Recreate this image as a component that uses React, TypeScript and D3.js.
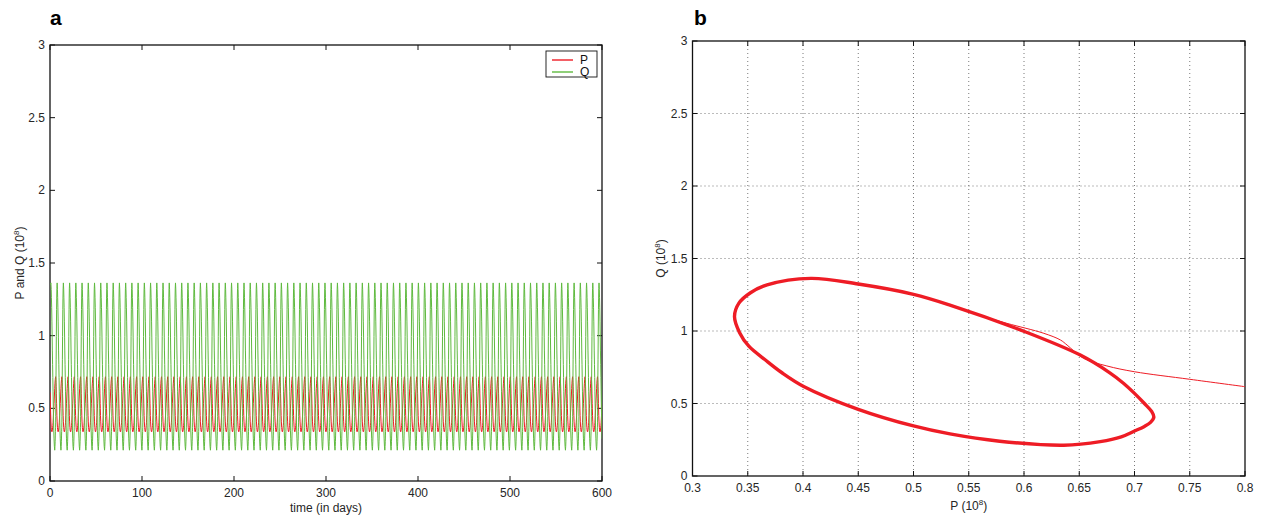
import React from 'react';
import * as d3 from 'd3';

// ---- data -------------------------------------------------------------
// One orbit of the P–Q limit cycle (units of 10^8), counter-clockwise,
// starting at its rightmost point; phase is the fraction of one period.
const cyclePhase = [0, 0.008, 0.018, 0.03, 0.042, 0.055, 0.08, 0.11, 0.15, 0.17, 0.2, 0.24, 0.29, 0.32, 0.36, 0.4, 0.44, 0.47, 0.51, 0.545, 0.58, 0.64, 0.7, 0.74, 0.79, 0.85, 0.89, 0.92, 0.945, 0.965, 0.985];
const cycleP = [0.7175, 0.7155, 0.709, 0.7, 0.69, 0.678, 0.651, 0.601, 0.533, 0.5, 0.45, 0.407, 0.3675, 0.3525, 0.342, 0.338, 0.3425, 0.351, 0.366, 0.381, 0.4006, 0.45, 0.5, 0.533, 0.578, 0.636, 0.669, 0.688, 0.7, 0.709, 0.7145];
const cycleQ = [0.405, 0.445, 0.5, 0.57, 0.64, 0.71, 0.834, 0.995, 1.179, 1.253, 1.324, 1.363, 1.318, 1.264, 1.192, 1.1, 0.99, 0.895, 0.8, 0.712, 0.618, 0.46, 0.345, 0.29, 0.24, 0.212, 0.237, 0.27, 0.31, 0.342, 0.37];

// oscillation period (days) and simulated span
const period = 6.77;
const tEnd = 600;
// initial state of the time series and where it joins the cycle
const initP = 0.61;
const initQ = 1.35;
const joinTime = 1;
const joinIndex = 11;

// transient trajectory approaching the cycle in the phase plane
const transientP = [0.8, 0.75, 0.7, 0.675, 0.654, 0.639, 0.633, 0.618, 0.5845, 0.56, 0.533];
const transientQ = [0.616, 0.667, 0.719, 0.759, 0.811, 0.903, 0.938, 0.984, 1.053, 1.108, 1.179];

// axis ticks
const timeTicks = [0, 100, 200, 300, 400, 500, 600];
const popTicks = [0, 0.5, 1, 1.5, 2, 2.5, 3];
const pTicks = [0.3, 0.35, 0.4, 0.45, 0.5, 0.55, 0.6, 0.65, 0.7, 0.75, 0.8];

const RED = '#ee1c25';
const GREEN = '#5fba3f';
const FONT = '"Liberation Sans", Arial, Helvetica, sans-serif';

// ---- build the time series from repeated orbits -------------------------
type Pt = { t: number; p: number; q: number };
const series: Pt[] = [{ t: 0, p: initP, q: initQ }];
{
  const shift = joinTime - cyclePhase[joinIndex] * period;
  let done = false;
  for (let k = 0; !done; k++) {
    for (let i = 0; i < cyclePhase.length; i++) {
      if (k === 0 && i < joinIndex) continue;
      const t = shift + (k + cyclePhase[i]) * period;
      series.push({ t, p: cycleP[i], q: cycleQ[i] });
      if (t > tEnd) { done = true; break; }
    }
  }
}

const loopPts: [number, number][] = cycleP.map((p, i) => [p, cycleQ[i]]);
const transPts: [number, number][] = transientP.map((p, i) => [p, transientQ[i]]);

// ---- layout -----------------------------------------------------------
const A = { left: 50, right: 602, top: 45, bottom: 481 };
const B = { left: 692.5, right: 1245, top: 41, bottom: 476 };
const TICK = 5;

const fmt = (v: number) => String(+v.toFixed(2));

function Frame({ box, xTicks, yTicks, x, y, grid }: any) {
  const { left, right, top, bottom } = box;
  return (
    <g>
      {grid && (
        <g stroke="#6a6a6a" strokeWidth={0.9} strokeDasharray="1 3">
          {xTicks.slice(1, -1).map((v: number) => (
            <line key={'gx' + v} x1={x(v)} x2={x(v)} y1={top} y2={bottom} />
          ))}
          {yTicks.slice(1, -1).map((v: number) => (
            <line key={'gy' + v} x1={left} x2={right} y1={y(v)} y2={y(v)} />
          ))}
        </g>
      )}
      <g stroke="#111" strokeWidth={1}>
        {xTicks.map((v: number) => (
          <g key={'tx' + v}>
            <line x1={x(v)} x2={x(v)} y1={bottom} y2={bottom - TICK} />
            <line x1={x(v)} x2={x(v)} y1={top} y2={top + TICK} />
          </g>
        ))}
        {yTicks.map((v: number) => (
          <g key={'ty' + v}>
            <line x1={left} x2={left + TICK} y1={y(v)} y2={y(v)} />
            <line x1={right} x2={right - TICK} y1={y(v)} y2={y(v)} />
          </g>
        ))}
      </g>
      <rect x={left} y={top} width={right - left} height={bottom - top} fill="none" stroke="#111" strokeWidth={1.3} />
      <g fontFamily={FONT} fontSize={12} fill="#262626">
        {xTicks.map((v: number) => (
          <text key={'lx' + v} x={x(v)} y={bottom + 16} textAnchor="middle">{fmt(v)}</text>
        ))}
        {yTicks.map((v: number) => (
          <text key={'ly' + v} x={left - 5} y={y(v) + 4} textAnchor="end">{fmt(v)}</text>
        ))}
      </g>
    </g>
  );
}

export default function App() {
  const xa = d3.scaleLinear().domain([0, 600]).range([A.left, A.right]);
  const ya = d3.scaleLinear().domain([0, 3]).range([A.bottom, A.top]);
  const xb = d3.scaleLinear().domain([0.3, 0.8]).range([B.left, B.right]);
  const yb = d3.scaleLinear().domain([0, 3]).range([B.bottom, B.top]);

  const lineP = d3.line<Pt>().x((d) => xa(d.t)).y((d) => ya(d.p))(series) || '';
  const lineQ = d3.line<Pt>().x((d) => xa(d.t)).y((d) => ya(d.q))(series) || '';
  const loop = d3.line<[number, number]>().x((d) => xb(d[0])).y((d) => yb(d[1])).curve(d3.curveCatmullRomClosed.alpha(0.5))(loopPts) || '';
  const trans = d3.line<[number, number]>().x((d) => xb(d[0])).y((d) => yb(d[1])).curve(d3.curveCatmullRom.alpha(0.5))(transPts) || '';

  return (
    <svg width={1269} height={518} style={{ position: 'absolute', left: 0, top: 0, background: '#fff' }}>
      <defs>
        <clipPath id="clipA"><rect x={A.left} y={A.top} width={A.right - A.left} height={A.bottom - A.top} /></clipPath>
        <clipPath id="clipB"><rect x={B.left} y={B.top} width={B.right - B.left} height={B.bottom - B.top} /></clipPath>
      </defs>
      <rect width={1269} height={518} fill="#fff" />

      {/* panel a: time series */}
      <Frame box={A} xTicks={timeTicks} yTicks={popTicks} x={xa} y={ya} grid={false} />
      <g clipPath="url(#clipA)" fill="none" strokeWidth={1}>
        <path d={lineP} stroke={RED} />
        <path d={lineQ} stroke={GREEN} />
      </g>
      <rect x={546} y={51} width={51} height={26} fill="#fff" stroke="#111" strokeWidth={0.9} />
      <path d="M552,60H573" stroke={RED} strokeWidth={1.4} fill="none" />
      <path d="M552,72H573" stroke={GREEN} strokeWidth={1.4} fill="none" />
      <g fontFamily={FONT} fontSize={12} fill="#111">
        <text x={580} y={64}>P</text>
        <text x={580} y={76}>Q</text>
      </g>
      <g fontFamily={FONT} fontSize={12} fill="#262626">
        <text x={(A.left + A.right) / 2} y={512} textAnchor="middle">time (in days)</text>
        <text transform={`translate(24, ${(A.top + A.bottom) / 2}) rotate(-90)`} textAnchor="middle">
          P and Q (10<tspan fontSize={8} dy={-5}>8</tspan><tspan dy={5}>)</tspan>
        </text>
      </g>
      <text x={50} y={25} fontFamily={FONT} fontSize={21} fontWeight="bold" fill="#000">a</text>

      {/* panel b: phase plane */}
      <Frame box={B} xTicks={pTicks} yTicks={popTicks} x={xb} y={yb} grid={true} />
      <g clipPath="url(#clipB)" fill="none" stroke={RED}>
        <path d={trans} strokeWidth={1} />
        <path d={loop} strokeWidth={3.4} strokeLinejoin="round" />
      </g>
      <g fontFamily={FONT} fontSize={12} fill="#262626">
        <text x={(B.left + B.right) / 2} y={510} textAnchor="middle">
          P (10<tspan fontSize={8} dy={-5}>8</tspan><tspan dy={5}>)</tspan>
        </text>
        <text transform={`translate(665, ${(B.top + B.bottom) / 2}) rotate(-90)`} textAnchor="middle">
          Q (10<tspan fontSize={8} dy={-5}>8</tspan><tspan dy={5}>)</tspan>
        </text>
      </g>
      <text x={694} y={25} fontFamily={FONT} fontSize={21} fontWeight="bold" fill="#000">b</text>
    </svg>
  );
}
